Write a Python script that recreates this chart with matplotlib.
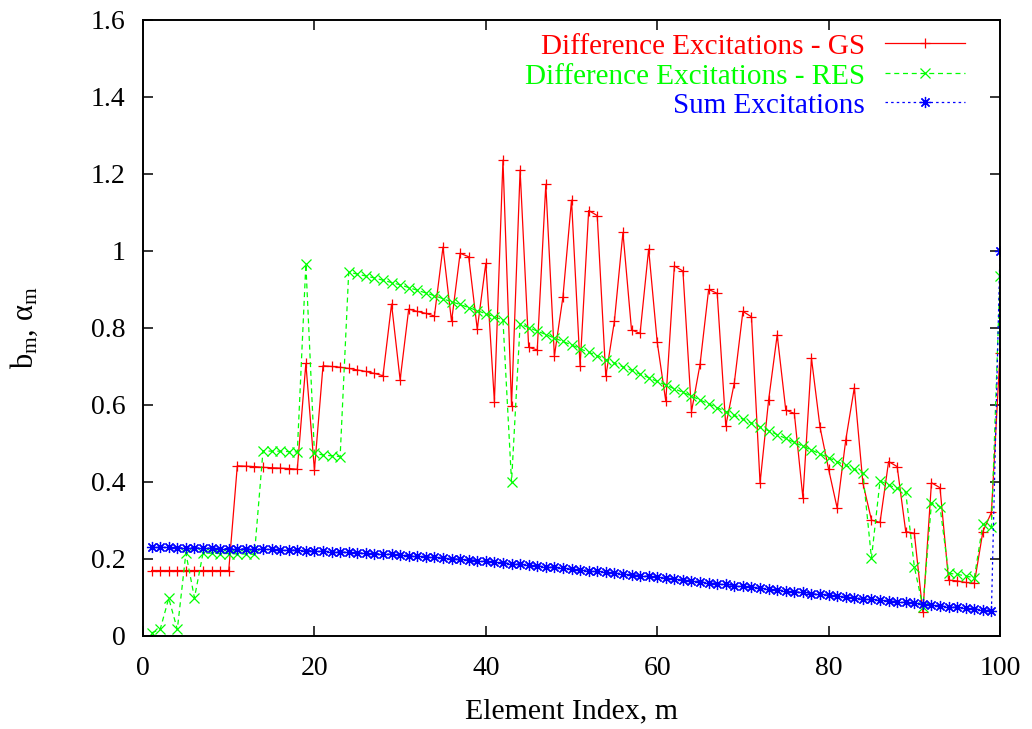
import matplotlib

matplotlib.use("Agg")
import matplotlib.pyplot as plt
import numpy as np

plt.rcParams["font.family"] = ["Liberation Serif", "DejaVu Serif"]
plt.rcParams["mathtext.fontset"] = "custom"
plt.rcParams["mathtext.rm"] = "Liberation Serif"
plt.rcParams["mathtext.it"] = "Liberation Serif:italic"

# element index m = 1..100
element_index = list(range(1, 101))

diff_gs = [
    0.170, 0.170, 0.170, 0.170, 0.170, 0.170, 0.170, 0.170, 0.170, 0.170,
    0.442, 0.441, 0.440, 0.438, 0.437, 0.436, 0.435, 0.433, 0.708, 0.431,
    0.702, 0.700, 0.698, 0.695, 0.691, 0.687, 0.682, 0.676, 0.862, 0.665,
    0.849, 0.843, 0.838, 0.831, 1.010, 0.817, 0.994, 0.985, 0.797, 0.968,
    0.609, 1.236, 0.598, 1.210, 0.750, 0.743, 1.173, 0.727, 0.881, 1.132,
    0.700, 1.105, 1.092, 0.674, 0.817, 1.048, 0.795, 0.786, 1.005, 0.763,
    0.610, 0.961, 0.948, 0.583, 0.706, 0.900, 0.890, 0.546, 0.658, 0.843,
    0.829, 0.397, 0.613, 0.782, 0.587, 0.578, 0.359, 0.721, 0.542, 0.433,
    0.332, 0.509, 0.645, 0.397, 0.301, 0.295, 0.453, 0.440, 0.271, 0.267,
    0.061, 0.398, 0.385, 0.145, 0.143, 0.139, 0.137, 0.271, 0.321, 0.734,
]

diff_res = [
    0.008, 0.017, 0.098, 0.017, 0.215, 0.099, 0.215, 0.215, 0.214, 0.214,
    0.213, 0.213, 0.212, 0.481, 0.480, 0.480, 0.479, 0.478, 0.966, 0.475,
    0.470, 0.468, 0.466, 0.945, 0.940, 0.935, 0.930, 0.924, 0.918, 0.912,
    0.905, 0.898, 0.891, 0.884, 0.876, 0.868, 0.861, 0.853, 0.845, 0.837,
    0.829, 0.821, 0.400, 0.810, 0.801, 0.792, 0.783, 0.774, 0.765, 0.756,
    0.746, 0.737, 0.728, 0.718, 0.709, 0.699, 0.690, 0.680, 0.671, 0.661,
    0.652, 0.642, 0.633, 0.623, 0.613, 0.603, 0.593, 0.583, 0.573, 0.563,
    0.553, 0.543, 0.533, 0.523, 0.513, 0.503, 0.493, 0.483, 0.473, 0.463,
    0.453, 0.443, 0.433, 0.423, 0.202, 0.403, 0.392, 0.384, 0.373, 0.180,
    0.076, 0.345, 0.336, 0.163, 0.160, 0.156, 0.151, 0.290, 0.284, 0.935,
]

sum_exc = [
    0.230, 0.230, 0.230, 0.229, 0.229, 0.229, 0.228, 0.228, 0.227, 0.227,
    0.227, 0.226, 0.226, 0.225, 0.225, 0.224, 0.223, 0.223, 0.222, 0.221,
    0.220, 0.219, 0.218, 0.217, 0.216, 0.215, 0.214, 0.213, 0.212, 0.210,
    0.209, 0.207, 0.206, 0.204, 0.203, 0.201, 0.199, 0.198, 0.196, 0.194,
    0.192, 0.190, 0.188, 0.186, 0.184, 0.182, 0.180, 0.178, 0.176, 0.174,
    0.172, 0.170, 0.168, 0.166, 0.164, 0.161, 0.159, 0.157, 0.155, 0.152,
    0.150, 0.148, 0.145, 0.143, 0.141, 0.138, 0.136, 0.134, 0.131, 0.129,
    0.127, 0.124, 0.122, 0.120, 0.117, 0.115, 0.113, 0.110, 0.108, 0.106,
    0.104, 0.101, 0.099, 0.097, 0.095, 0.093, 0.091, 0.089, 0.087, 0.085,
    0.082, 0.080, 0.078, 0.076, 0.074, 0.072, 0.070, 0.068, 0.066, 1.000,
]

labels = ["Difference Excitations - GS", "Difference Excitations - RES", "Sum Excitations"]
x_ticks = [0, 20, 40, 60, 80, 100]
y_ticks = [0, 0.2, 0.4, 0.6, 0.8, 1.0, 1.2, 1.4, 1.6]
y_tick_labels = ["0", "0.2", "0.4", "0.6", "0.8", "1", "1.2", "1.4", "1.6"]

styles = [
    dict(color="#ff0000", linestyle="-", marker="+", markersize=7),
    dict(color="#00ff00", linestyle=(0, (4, 3)), marker="x", markersize=6.5),
    dict(color="#0000ff", linestyle=(0, (2, 2.5)), marker=(8, 2, 0), markersize=8),
]

fig = plt.figure(figsize=(10.32, 7.29), dpi=100)
ax = fig.add_axes([0.1386, 0.1276, 0.8304, 0.845])

series = [diff_gs, diff_res, sum_exc]
for vals, st in zip(series, styles):
    ax.plot(element_index, vals, linewidth=0.9, markeredgewidth=0.9, **st)

ax.set_xlim(0, 100)
ax.set_ylim(0, 1.6)
ax.set_xticks(x_ticks)
ax.set_yticks(y_ticks)
ax.set_yticklabels(y_tick_labels)
ax.tick_params(direction="in", length=7, width=1.1, top=True, right=True,
               labelsize=20, colors="black")
ax.tick_params(axis="x", pad=14.5)
ax.tick_params(axis="y", pad=12.5)
for sp in ax.spines.values():
    sp.set_linewidth(1.4)

ax.set_xlabel("Element Index, m", fontsize=21.5)
ax.set_ylabel(r"b$_{\mathrm{m}}$, α$_{\mathrm{m}}$", fontsize=22)
ax.xaxis.set_label_coords(0.5, -0.122)
ax.yaxis.set_label_coords(-0.139, 0.50)
ax.xaxis.label.set_va("center")
ax.yaxis.label.set_va("center")

# gnuplot-style key: right-aligned coloured text with sample to the right
key_y = [0.9627, 0.914, 0.867]
for lab, st, yy in zip(labels, styles, key_y):
    ax.text(0.8425, yy - 0.006, lab, transform=ax.transAxes, ha="right", va="center",
            fontsize=21, color=st["color"])
    ax.plot([0.866, 0.959], [yy, yy], transform=ax.transAxes, color=st["color"],
            linestyle=st["linestyle"], linewidth=0.9, clip_on=False)
    ax.plot([0.912], [yy], transform=ax.transAxes, color=st["color"],
            marker=st["marker"], markersize=st["markersize"], markeredgewidth=0.9,
            linestyle="none", clip_on=False)

fig.savefig("out.png", dpi=100)
